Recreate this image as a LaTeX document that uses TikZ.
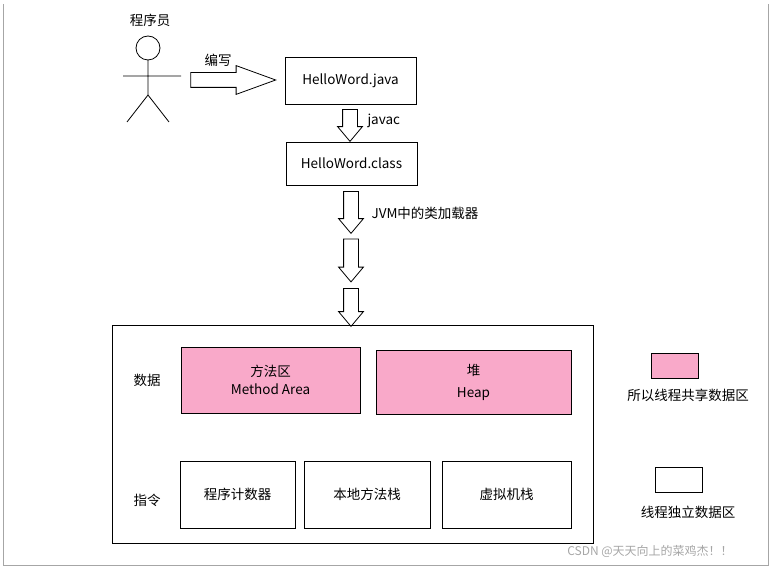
\documentclass[tikz,border=0pt]{standalone}
\usepackage{fontspec}
\setmainfont{Noto Sans CJK SC}
\usetikzlibrary{shapes.arrows,positioning}
\definecolor{sharedpink}{HTML}{F9A9C9}
\tikzset{
    box/.style={draw, thick, inner sep=0pt, font=\fontsize{13.5}{18}\selectfont},
    bigarrow/.style={draw, thick, single arrow, inner sep=7pt, single arrow head extend=5pt,
        single arrow tip angle=80, shape border uses incircle=false},
    lbl/.style={font=\fontsize{13.5}{16}\selectfont}
}
\begin{document}
\begin{tikzpicture}[x=1pt,y=-1pt]
        \useasboundingbox (0,0) rectangle (772,569);
        %FRAME
        \draw[gray!70] (3,4) -- (3,565) -- (768,565) -- (768,4);

        %PROGRAMMER
        \node[lbl] (who) at (150,20) {程序员};
        \draw[thick] (148,48) circle (12);
        \draw[thick] (148,60) -- (148,95) (123,76) -- (181,76)
            (127,122) -- (148,95) -- (169,122);

        %FILES
        \node[box, minimum width=131, minimum height=47] (java) at (350.5,80.5) {HelloWord.java};
        \node[box, minimum width=131, minimum height=43] (class) at (351.5,163.5) {HelloWord.class};
        \node[bigarrow, minimum height=85, single arrow head extend=7pt, single arrow tip angle=40] (write) at (223,80) {};
        \node[lbl] at (218,60) {编写};
        \node[bigarrow, rotate=-90, minimum height=32] (javac) at (350,121) {};
        \node[lbl, right=14pt of javac.center] {javac};
        \node[bigarrow, rotate=-90, minimum height=42] (load1) at (351,208) {};
        \node[lbl, anchor=west] at (368,213) {JVM中的类加载器};
        \node[bigarrow, rotate=-90, minimum height=43] (load2) at (351,256) {};
        \node[bigarrow, rotate=-90, minimum height=38] (load3) at (351,303) {};

        %JVM
        \draw[thick] (112,325) rectangle (593,543);
        \node[lbl] at (147,380) {数据};
        \node[lbl] at (147,500) {指令};
        \node[box, fill=sharedpink, minimum width=179, minimum height=66, align=center] (method) at (270.5,380) {方法区\\Method Area};
        \node[box, fill=sharedpink, minimum width=195, minimum height=64, align=center] (heap) at (473.5,382) {堆\\[4pt]Heap};
        \node[box, minimum width=115, minimum height=67] (pc) at (237.5,494.5) {程序计数器};
        \node[box, minimum width=126, minimum height=67] (native) at (367,494.5) {本地方法栈};
        \node[box, minimum width=129, minimum height=67] (vmstack) at (506.5,494.5) {虚拟机栈};

        %LEGEND
        \node[box, fill=sharedpink, minimum width=47, minimum height=25] (shared) at (674.5,365.5) {};
        \node[lbl] at (688,395) {所以线程共享数据区};
        \node[box, minimum width=47, minimum height=25] (own) at (678.5,479.5) {};
        \node[lbl] at (688,512) {线程独立数据区};
        \node[font=\fontsize{12}{14}\selectfont, text=gray!70] at (650,551) {CSDN @天天向上的菜鸡杰！！};
\end{tikzpicture}
\end{document}
